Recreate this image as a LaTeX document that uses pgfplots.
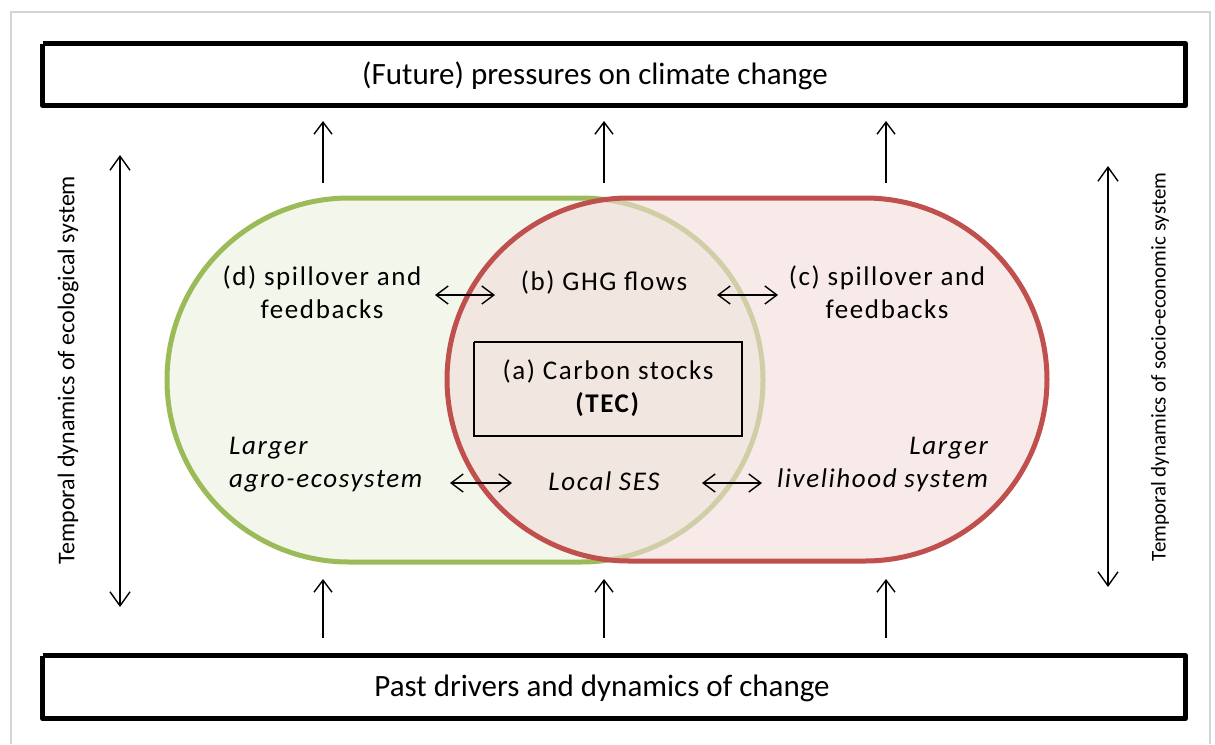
\documentclass[border=0pt]{standalone}
\usepackage{pgfplots}
\pgfplotsset{compat=1.18}
\usepackage{fontspec}
\setmainfont{Carlito}
\usetikzlibrary{arrows.meta}
\definecolor{gline}{HTML}{9BBB59}
\definecolor{gfill}{HTML}{EBF1DE}
\definecolor{rline}{HTML}{C0504D}
\definecolor{rfill}{HTML}{F2DCDB}
\definecolor{frame}{HTML}{D4D4D4}
\newcommand{\body}{\fontsize{13.5}{16.5}\selectfont\addfontfeatures{LetterSpace=6}}
\begin{document}
\begin{tikzpicture}
\begin{axis}[scale only axis, width=607.5pt, height=372pt,
  xmin=0, xmax=1215, ymin=0, ymax=744, y dir=reverse,
  axis lines=none, ticks=none, clip=false]
\path (rel axis cs:0,0) rectangle (rel axis cs:1,1);
% outer frame
\addplot[draw=frame, line width=0.7pt, mark=none] coordinates {(11,744) (11,12) (1210,12) (1210,744)};
% top and bottom boxes
\addplot[draw=black, line width=2.5pt, line join=round, mark=none] coordinates {(42.5,43.5) (1185.5,43.5) (1185.5,105.5) (42.5,105.5) (42.5,43.5)};
\addplot[draw=black, line width=2.5pt, line join=round, mark=none] coordinates {(42.5,655.5) (1185.5,655.5) (1185.5,718.5) (42.5,718.5) (42.5,655.5)};
% stadiums
\fill[gfill, fill opacity=0.6, rounded corners=91pt] (axis cs:167,198) rectangle (axis cs:763,562);
\draw[draw=gline, line width=2.5pt, rounded corners=91pt] (axis cs:167,198) rectangle (axis cs:763,562);
\fill[rfill, fill opacity=0.6, rounded corners=91pt] (axis cs:447,198) rectangle (axis cs:1047,561);
\draw[draw=rline, line width=2.5pt, rounded corners=91pt] (axis cs:447,198) rectangle (axis cs:1047,561);
% inner box
\addplot[draw=black, line width=0.75pt, mark=none] coordinates {(474,342) (742,342) (742,436) (474,436) (474,342)};
% vertical arrows
\pgfplotsset{arr/.style={draw=black, line width=0.7pt, mark=none}}
\addplot[arr, -{Straight Barb[length=6pt,width=9pt]}] coordinates {(323,183) (323,121)};
\addplot[arr, -{Straight Barb[length=6pt,width=9pt]}] coordinates {(604,183) (604,121)};
\addplot[arr, -{Straight Barb[length=6pt,width=9pt]}] coordinates {(886,183) (886,121)};
\addplot[arr, -{Straight Barb[length=6pt,width=9pt]}] coordinates {(323,638) (323,579)};
\addplot[arr, -{Straight Barb[length=6pt,width=9pt]}] coordinates {(604,638) (604,579)};
\addplot[arr, -{Straight Barb[length=6pt,width=9pt]}] coordinates {(886,638) (886,579)};
% side double arrows
\addplot[arr, {Straight Barb[length=7pt,width=10pt]}-{Straight Barb[length=7pt,width=10pt]}] coordinates {(120,155) (120,607)};
\addplot[arr, {Straight Barb[length=7pt,width=10pt]}-{Straight Barb[length=7pt,width=10pt]}] coordinates {(1108,166) (1108,587)};
% horizontal double arrows
\addplot[arr, {Straight Barb[length=6pt,width=9pt]}-{Straight Barb[length=6pt,width=9pt]}] coordinates {(435,295) (495,295)};
\addplot[arr, {Straight Barb[length=6pt,width=9pt]}-{Straight Barb[length=6pt,width=9pt]}] coordinates {(717,295) (778,295)};
\addplot[arr, {Straight Barb[length=6pt,width=9pt]}-{Straight Barb[length=6pt,width=9pt]}] coordinates {(450,483) (512,483)};
\addplot[arr, {Straight Barb[length=6pt,width=9pt]}-{Straight Barb[length=6pt,width=9pt]}] coordinates {(702,483) (762,483)};
% texts
\node[font=\fontsize{15.5}{18}\selectfont] at (axis cs:595,76) {(Future) pressures on climate change};
\node[font=\fontsize{15.5}{18}\selectfont] at (axis cs:602,688) {Past drivers and dynamics of change};
\node[font=\body, align=center] at (axis cs:322,292) {(d) spillover and\\feedbacks};
\node[font=\body] at (axis cs:604,282) {(b) GHG flows};
\node[font=\body, align=center] at (axis cs:887,292) {(c) spillover and\\feedbacks};
\node[font=\body, align=center] at (axis cs:608,388) {(a) Carbon stocks\\\textbf{(TEC)}};
\node[font=\body\itshape, align=left, anchor=west] at (axis cs:222,465) {Larger\\agro-ecosystem};
\node[font=\body\itshape] at (axis cs:604,481) {Local SES};
\node[font=\body\itshape, align=right, anchor=east] at (axis cs:995,465) {Larger\\livelihood system};
\node[font=\fontsize{12}{14}\selectfont, rotate=90] at (axis cs:68,370) {Temporal dynamics of ecological system};
\node[font=\fontsize{10.5}{12}\selectfont, rotate=90] at (axis cs:1160,367) {Temporal dynamics of socio-economic system};
\end{axis}
\end{tikzpicture}
\end{document}
